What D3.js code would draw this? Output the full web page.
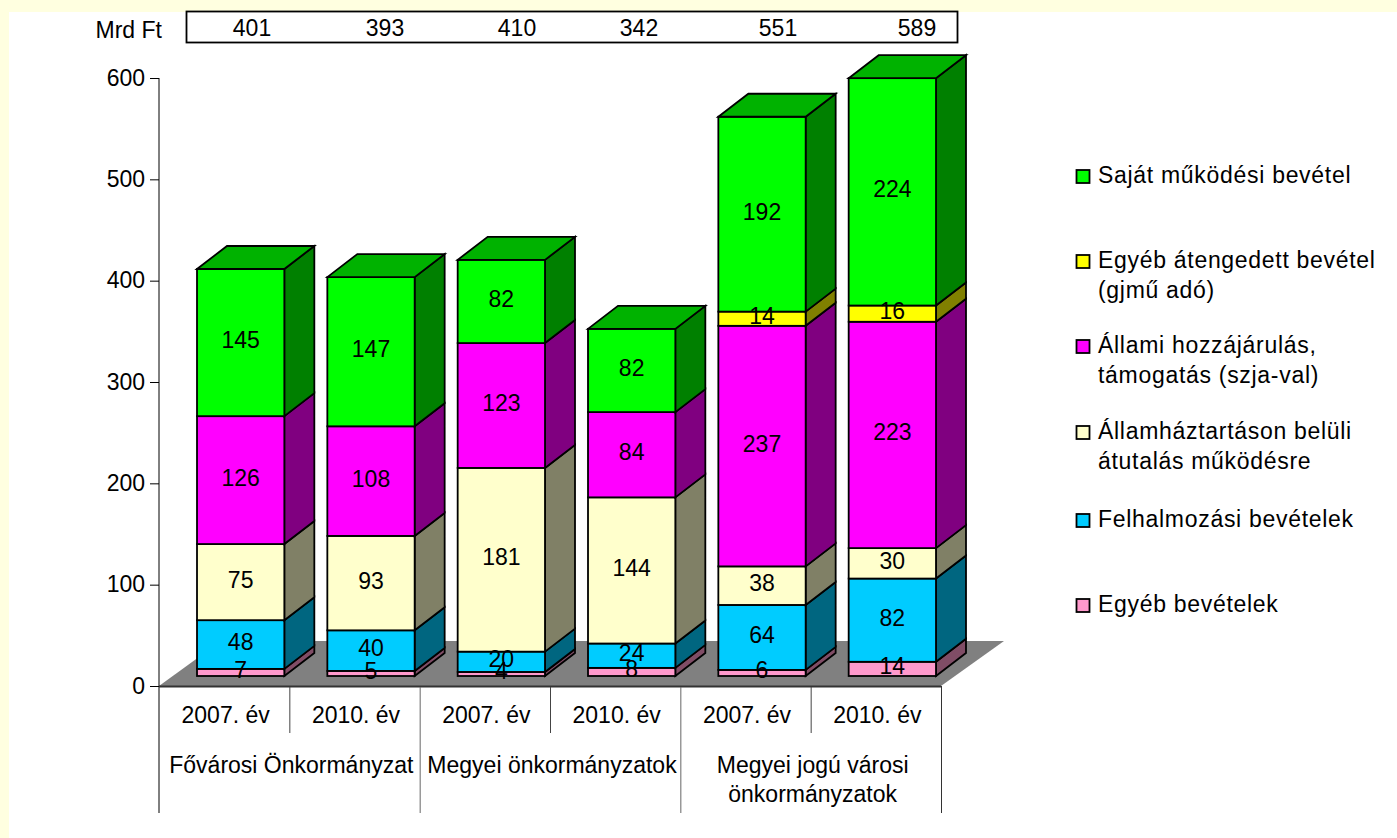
<!DOCTYPE html>
<html><head><meta charset="utf-8">
<script src="https://cdn.jsdelivr.net/npm/d3@7"></script>
<style>html,body{margin:0;padding:0;background:#fff}svg{display:block}text{font-family:"Liberation Sans",Arial,sans-serif;fill:#000}</style>
</head><body><div id="c"></div>
<script>
const years = ["2007. év","2010. év","2007. év","2010. év","2007. év","2010. év"];
const groups = [["Fővárosi Önkormányzat"],["Megyei önkormányzatok"],["Megyei jogú városi","önkormányzatok"]];
const totals = [401,393,410,342,551,589];
const egyeb = [7,5,4,8,6,14];
const felhalm = [48,40,20,24,64,82];
const allamhaz = [75,93,181,144,38,30];
const allami = [126,108,123,84,237,223];
const atengedett = [0,0,0,0,14,16];
const sajat = [145,147,82,82,192,224];
const seriesValues = [egyeb,felhalm,allamhaz,allami,atengedett,sajat];
const faceColors = ["#FF99CC","#00CCFF","#FFFFCC","#FF00FF","#FFFF00","#00FF00"];
const sideColors = ["#804D66","#006680","#808066","#800080","#808000","#008000"];
const topColor = "#00B200";
const legendLines = [["Saját működési bevétel"],["Egyéb átengedett bevétel","(gjmű adó)"],["Állami hozzájárulás,","támogatás (szja-val)"],["Államháztartáson belüli","átutalás működésre"],["Felhalmozási bevételek"],["Egyéb bevételek"]];
const legendColors = ["#00FF00","#FFFF00","#FF00FF","#FFFFCC","#00CCFF","#FF99CC"];
const yTicks = [0,100,200,300,400,500,600];

const W=1397,H=838,FS=23,SW=1.8;
const svg=d3.select("#c").append("svg").attr("width",W).attr("height",H);
svg.append("rect").attr("width",W).attr("height",H).attr("fill","#FFFFE0");
svg.append("rect").attr("x",9).attr("y",12).attr("width",W-9).attr("height",H-12).attr("fill","#fff");

const y=d3.scaleLinear().domain([0,600]).range([686,78]);
const yBar=d3.scaleLinear().domain([0,600]).range([676,67]);
const cat=d3.scaleBand().domain(d3.range(6)).range([159,941]);
const x=d3.scaleBand().domain(d3.range(6)).range([175.5,957.5]).paddingInner(.33).paddingOuter(.165);
const DX=30, DY=-23;
const P=pts=>pts.map(p=>p.join(",")).join(" ");
const T=(s,xx,yy,a="middle",ls=0)=>svg.append("text").attr("x",xx).attr("y",yy).attr("text-anchor",a).attr("font-size",FS).attr("letter-spacing",ls).text(s);

// floor
svg.append("polygon").attr("points",P([[159,686],[941,686],[1004,641],[221,641]])).attr("fill","#808080");

// y axis
svg.append("line").attr("x1",159).attr("x2",159).attr("y1",y(600)).attr("y2",813).attr("stroke","#000").attr("stroke-width",1);
yTicks.forEach(t=>{
  svg.append("line").attr("x1",150).attr("x2",159).attr("y1",y(t)+.5).attr("y2",y(t)+.5).attr("stroke","#000");
  T(t,145,y(t)+7.5,"end");
});
// baseline and category separators
svg.append("line").attr("x1",159).attr("x2",941).attr("y1",686.5).attr("y2",686.5).attr("stroke","#333").attr("stroke-width",2);
d3.range(1,6).forEach(i=>{
  const long=i%2===0;
  svg.append("line").attr("x1",cat(i)+.5).attr("x2",cat(i)+.5).attr("y1",687).attr("y2",long?813:733).attr("stroke",long?"#666":"#444");
});
svg.append("line").attr("x1",941.5).attr("x2",941.5).attr("y1",686).attr("y2",813).attr("stroke","#333");
years.forEach((s,i)=>T(s,cat(i)+cat.bandwidth()/2+1.5,723));
groups.forEach((g,i)=>{
  const c=cat(i*2)+cat.bandwidth()+2;
  g.forEach((s,j)=>T(s,c,773+j*29));
});

// bars
d3.range(6).forEach(i=>{
  const bx=x(i),bw=x.bandwidth();
  let cum=0;
  seriesValues.forEach((vals,s)=>{
    const v=vals[i];
    if(!v) return;
    const y0=yBar(cum), y1=yBar(cum+v);
    svg.append("polygon").attr("points",P([[bx+bw,y0],[bx+bw+DX,y0+DY],[bx+bw+DX,y1+DY],[bx+bw,y1]]))
      .attr("fill",sideColors[s]).attr("stroke","#000").attr("stroke-width",SW);
    svg.append("rect").attr("x",bx).attr("y",y1).attr("width",bw).attr("height",y0-y1)
      .attr("fill",faceColors[s]).attr("stroke","#000").attr("stroke-width",SW);
    cum+=v;
  });
  const yt=yBar(cum);
  svg.append("polygon").attr("points",P([[bx,yt],[bx+DX,yt+DY],[bx+bw+DX,yt+DY],[bx+bw,yt]]))
    .attr("fill",topColor).attr("stroke","#000").attr("stroke-width",SW);
});
// value labels on top
d3.range(6).forEach(i=>{
  const c=x(i)+x.bandwidth()/2;
  let cum=0;
  seriesValues.forEach(vals=>{
    const v=vals[i];
    if(!v) return;
    T(v,c,yBar(cum+v/2)+5.5);
    cum+=v;
  });
});

// top table
svg.append("rect").attr("x",186.5).attr("y",11.5).attr("width",771).attr("height",31).attr("fill","#fff").attr("stroke","#000").attr("stroke-width",SW);
T("Mrd Ft",162,38,"end");
const totalCentres=[252,385,517,639,778,917];
totals.forEach((t,i)=>T(t,totalCentres[i],36));

// legend
const legendY=[178,263,348,434,522,607];
legendLines.forEach((ls,i)=>{
  svg.append("rect").attr("x",1076.5).attr("y",legendY[i]-8).attr("width",13).attr("height",13)
    .attr("fill",legendColors[i]).attr("stroke","#000").attr("stroke-width",SW);
  ls.forEach((l,j)=>T(l,1098,legendY[i]+5+j*29.5,"start",.7));
});
</script></body></html>
